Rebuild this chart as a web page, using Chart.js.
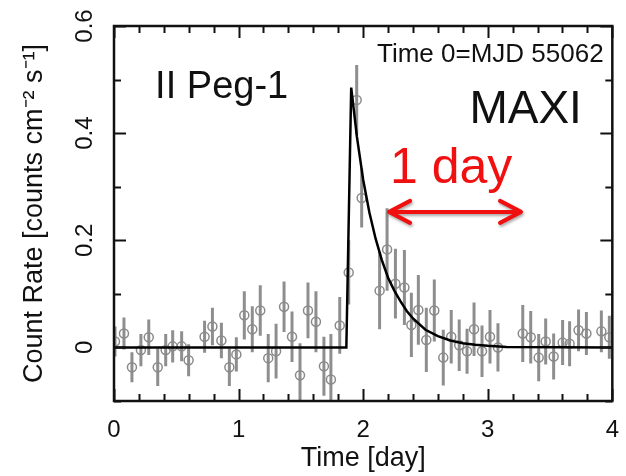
<!DOCTYPE html>
<html>
<head>
<meta charset="utf-8">
<script src="https://cdn.jsdelivr.net/npm/chart.js@4.4.1/dist/chart.umd.min.js"></script>
<style>
  html, body { margin: 0; padding: 0; background: #fff; }
</style>
</head>
<body>
<canvas id="lc" width="626" height="476"></canvas>
<script>
// light curve, time in days from MJD 55062
const times = [0.008, 0.080, 0.144, 0.216, 0.279, 0.351, 0.415, 0.471, 0.543, 0.599,
  0.727, 0.790, 0.862, 0.926, 0.982, 1.046, 1.110, 1.174, 1.238, 1.301,
  1.365, 1.429, 1.493, 1.557, 1.621, 1.685, 1.741, 1.812, 1.884, 1.948,
  1.988, 2.132, 2.192, 2.259, 2.331, 2.387, 2.443, 2.507, 2.571, 2.643,
  2.707, 2.771, 2.834, 2.890, 2.954, 3.018, 3.082, 3.281, 3.345, 3.409,
  3.465, 3.529, 3.601, 3.657, 3.729, 3.792, 3.912, 3.976];
const rates = [0.011, 0.026, -0.037, -0.005, 0.019, -0.037, -0.005, 0.002, 0.002, -0.024,
  0.020, 0.039, 0.013, -0.037, -0.013, 0.060, 0.034, 0.069, -0.020, -0.007,
  0.076, 0.020, -0.052, 0.069, 0.048, -0.035, -0.060, 0.041, 0.140, 0.462,
  0.279, 0.106, 0.183, 0.119, 0.112, 0.042, 0.070, 0.014, 0.069, -0.019,
  0.020, 0.004, -0.007, 0.034, -0.007, 0.020, 0.000, 0.026, 0.019, -0.019,
  0.011, -0.017, 0.009, 0.007, 0.032, 0.026, 0.030, 0.019];
const rateErrs = [0.028, 0.030, 0.028, 0.030, 0.033, 0.035, 0.030, 0.030, 0.028, 0.030,
  0.030, 0.035, 0.033, 0.035, 0.032, 0.045, 0.043, 0.047, 0.045, 0.051,
  0.047, 0.047, 0.060, 0.052, 0.057, 0.055, 0.085, 0.053, 0.060, 0.065,
  0.055, 0.072, 0.077, 0.065, 0.070, 0.060, 0.065, 0.060, 0.058, 0.052,
  0.050, 0.048, 0.042, 0.050, 0.048, 0.050, 0.045, 0.053, 0.049, 0.044,
  0.043, 0.043, 0.042, 0.042, 0.039, 0.040, 0.039, 0.040];

// flare model curve
const modelTimes = [0, 1.865, 1.904, 1.95, 2.00, 2.05, 2.10, 2.15, 2.20, 2.25, 2.30, 2.35,
  2.40, 2.50, 2.60, 2.70, 2.80, 2.90, 3.00, 3.15, 4.0];
const modelRates = [0, 0, 0.485, 0.393, 0.313, 0.252, 0.203, 0.163, 0.130, 0.106, 0.086, 0.068,
  0.054, 0.033, 0.021, 0.013, 0.008, 0.005, 0.003, 0.001, 0];

const xTicks = [0, 1, 2, 3, 4];
const yTicks = [0, 0.2, 0.4, 0.6];
const yTickLabels = ['0', '0.2', '0.4', '0.6'];

const FONT = "'Liberation Sans', Arial, Helvetica, sans-serif";
Chart.defaults.font.family = FONT;

const frame = {
  id: 'frame',
  beforeDatasetsDraw(chart) {
    const {ctx, chartArea: a, scales: {x, y}} = chart;
    ctx.save();
    ctx.beginPath();
    ctx.rect(a.left, a.top, a.right - a.left, a.bottom - a.top);
    ctx.clip();
    ctx.strokeStyle = '#8e8e8e';
    ctx.lineWidth = 3;
    times.forEach((t, i) => {
      const px = x.getPixelForValue(t);
      ctx.beginPath();
      ctx.moveTo(px, y.getPixelForValue(rates[i] - rateErrs[i]));
      ctx.lineTo(px, y.getPixelForValue(rates[i] + rateErrs[i]));
      ctx.stroke();
    });
    ctx.restore();
  },
  afterDatasetsDraw(chart) {
    const {ctx, chartArea: a, scales: {x, y}} = chart;
    ctx.save();
    ctx.strokeStyle = '#111';
    ctx.lineWidth = 2;
    // inward ticks on all four sides
    for (let v = 0; v <= 4.001; v += 0.2) {
      const px = Math.round(x.getPixelForValue(v)) + 0.5;
      const len = Math.abs(v - Math.round(v)) < 0.01 ? 12 : 7;
      ctx.beginPath();
      ctx.moveTo(px, a.bottom); ctx.lineTo(px, a.bottom - len);
      ctx.moveTo(px, a.top); ctx.lineTo(px, a.top + len);
      ctx.stroke();
    }
    for (let k = -1; k <= 6; k++) {
      const py = Math.round(y.getPixelForValue(k / 10)) + 0.5;
      const len = k % 2 === 0 ? 12 : 7;
      ctx.beginPath();
      ctx.moveTo(a.left, py); ctx.lineTo(a.left + len, py);
      ctx.moveTo(a.right, py); ctx.lineTo(a.right - len, py);
      ctx.stroke();
    }
    ctx.lineWidth = 2.5;
    ctx.strokeRect(a.left, a.top, a.right - a.left, a.bottom - a.top);

    // rotated y tick labels
    ctx.fillStyle = '#111';
    ctx.font = '24px ' + FONT;
    ctx.textAlign = 'center';
    ctx.textBaseline = 'middle';
    yTicks.forEach((v, i) => {
      ctx.save();
      ctx.translate(a.left - 29, y.getPixelForValue(v));
      ctx.rotate(-Math.PI / 2);
      ctx.fillText(yTickLabels[i], 0, 0);
      ctx.restore();
    });

    // annotations
    ctx.textBaseline = 'alphabetic';
    ctx.textAlign = 'left';
    ctx.font = '38px ' + FONT;
    ctx.fillText('II Peg-1', x.getPixelForValue(0.33), y.getPixelForValue(0.466));
    ctx.textAlign = 'right';
    ctx.font = '26px ' + FONT;
    ctx.fillText('Time 0=MJD 55062', x.getPixelForValue(3.93), y.getPixelForValue(0.533));
    ctx.textAlign = 'left';
    ctx.font = '46px ' + FONT;
    ctx.fillText('MAXI', x.getPixelForValue(2.853), y.getPixelForValue(0.419));
    ctx.fillStyle = '#f01010';
    ctx.font = '50px ' + FONT;
    ctx.fillText('1 day', x.getPixelForValue(2.215), y.getPixelForValue(0.307));

    // red double arrow for 1 day
    const x1 = x.getPixelForValue(2.2), x2 = x.getPixelForValue(3.275), ya = y.getPixelForValue(0.253);
    ctx.shadowColor = 'rgba(0,0,0,0.35)';
    ctx.shadowBlur = 3;
    ctx.shadowOffsetX = 1;
    ctx.shadowOffsetY = 2;
    ctx.strokeStyle = '#f01010';
    ctx.lineWidth = 4;
    ctx.lineCap = 'round';
    ctx.lineJoin = 'round';
    ctx.beginPath();
    ctx.moveTo(x1 + 2, ya); ctx.lineTo(x2 - 2, ya);
    ctx.moveTo(x1 + 22, ya - 11); ctx.lineTo(x1 + 1, ya); ctx.lineTo(x1 + 22, ya + 11);
    ctx.moveTo(x2 - 22, ya - 11); ctx.lineTo(x2 - 1, ya); ctx.lineTo(x2 - 22, ya + 11);
    ctx.stroke();
    ctx.restore();
  }
};

new Chart(document.getElementById('lc'), {
  type: 'scatter',
  data: {
    datasets: [{
      label: 'model',
      type: 'line',
      data: modelTimes.map((t, i) => ({x: t, y: modelRates[i]})),
      borderColor: '#000',
      borderWidth: 2.5,
      pointRadius: 0,
      tension: 0,
      fill: false,
      order: 0
    }, {
      label: 'MAXI',
      data: times.map((t, i) => ({x: t, y: rates[i]})),
      pointRadius: 4.5,
      borderColor: '#8a8a8a',
      backgroundColor: 'rgba(0,0,0,0)',
      borderWidth: 1.5,
      order: 1
    }]
  },
  options: {
    responsive: false,
    animation: false,
    devicePixelRatio: 1,
    layout: { padding: { top: 26, right: 10, left: 0, bottom: 0 } },
    plugins: { legend: { display: false }, tooltip: { enabled: false } },
    scales: {
      x: {
        type: 'linear',
        min: 0,
        max: 4,
        afterBuildTicks: s => { s.ticks = xTicks.map(v => ({value: v})); },
        afterFit: s => { s.height = 75; },
        ticks: { font: { size: 24 }, color: '#111', padding: 7 },
        grid: { display: false },
        border: { display: false },
        title: { display: true, text: 'Time [day]', color: '#111', font: { size: 27 }, padding: { top: 0, bottom: 1 } }
      },
      y: {
        min: -0.1,
        max: 0.6,
        afterFit: s => { s.width = 114; },
        ticks: { display: false },
        grid: { display: false },
        border: { display: false },
        title: { display: true, text: 'Count Rate [counts cm⁻² s⁻¹]', color: '#111', font: { size: 27 }, padding: { top: 18, bottom: 0 } }
      }
    }
  },
  plugins: [frame]
});
</script>
</body>
</html>
